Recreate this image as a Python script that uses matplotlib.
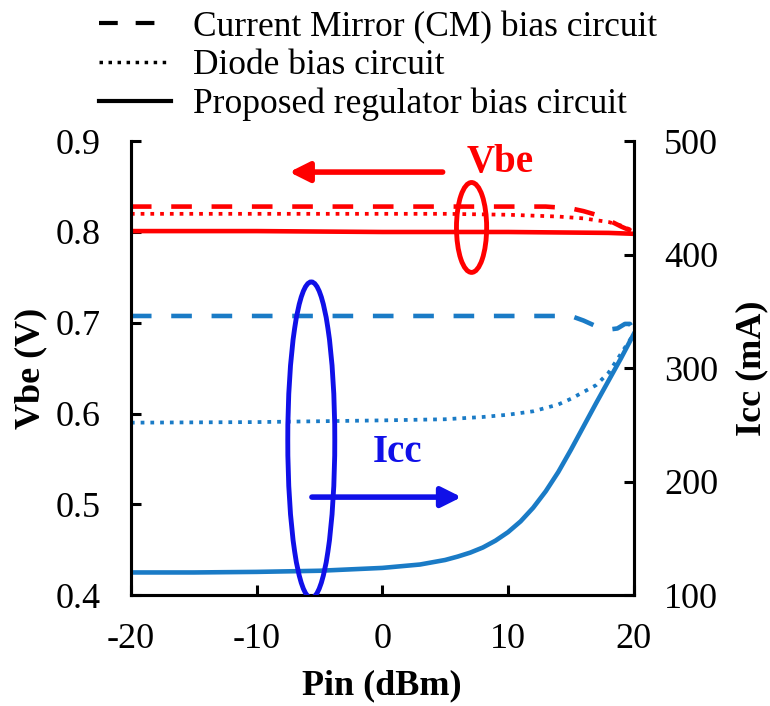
import numpy as np
import matplotlib
matplotlib.use("Agg")
import matplotlib.pyplot as plt
from matplotlib.lines import Line2D
from matplotlib.patches import Ellipse

plt.rcParams["font.family"] = ["Liberation Serif", "DejaVu Serif"]
plt.rcParams["axes.unicode_minus"] = False

# Vbe (left axis) vs Pin
pin_vbe_cm = [-20, -10, 0, 10, 13, 15, 16, 17, 18, 19, 20]
vbe_cm = [0.828, 0.828, 0.828, 0.828, 0.828, 0.826, 0.823, 0.819, 0.813, 0.806, 0.800]
pin_vbe_diode = [-20, -10, 0, 5, 10, 14, 16, 18, 19, 20]
vbe_diode = [0.820, 0.820, 0.820, 0.820, 0.819, 0.817, 0.815, 0.811, 0.807, 0.801]
pin_vbe_prop = [-20, -10, 0, 10, 18, 20]
vbe_prop = [0.801, 0.801, 0.800, 0.800, 0.799, 0.798]

# Icc (right axis) vs Pin
pin_icc_cm = [-20, -10, 0, 10, 15, 16, 17, 18, 18.7, 19.3, 19.7, 20]
icc_cm = [346, 346, 346, 346, 346, 342, 337, 334, 335, 339, 339, 333]
pin_icc_diode = [-20, -10, 0, 5, 8, 10, 12, 14, 15, 16, 17, 18, 19, 20]
icc_diode = [252, 252.5, 254, 255, 257, 259, 262, 268, 273, 279, 285, 296, 313, 330]
pin_icc_prop = [-20, -15, -10, -5, 0, 3, 5, 6, 7, 8, 9, 10, 11, 12, 13, 14, 15, 16, 17, 18, 19, 20]
icc_prop = [120, 120, 120.5, 121.5, 124, 127, 131, 134, 137.5, 142, 148, 155.5, 165, 177,
            191.5, 208.5, 228, 248.5, 269, 289, 309, 330]

legend_labels = ["Current Mirror (CM) bias circuit", "Diode bias circuit",
                 "Proposed regulator bias circuit"]

RED = "#FF0000"
BLUE_LINE = "#1A7BC6"
BLUE_MARK = "#1010E8"
dash = (0, (4.5, 4.3))
dot = (0, (1, 1.6))

fig = plt.figure(figsize=(7.7, 7.06), dpi=100)
ax = fig.add_axes([0.170, 0.157, 0.653, 0.643])
ax2 = ax.twinx()

ax.plot(pin_vbe_cm, vbe_cm, color=RED, lw=3.3, linestyle=dash)
ax.plot(pin_vbe_diode, vbe_diode, color=RED, lw=2.7, linestyle=dot)
ax.plot(pin_vbe_prop, vbe_prop, color=RED, lw=3.3)

ax2.plot(pin_icc_cm, icc_cm, color=BLUE_LINE, lw=3.3, linestyle=dash)
ax2.plot(pin_icc_diode, icc_diode, color=BLUE_LINE, lw=2.7, linestyle=dot)
ax2.plot(pin_icc_prop, icc_prop, color=BLUE_LINE, lw=3.3)

# annotations (in Vbe coordinates, drawn on top)
ax2.add_patch(Ellipse((7.1, 0.805), 2.4, 0.099, transform=ax.transData,
                      fill=False, edgecolor=RED, lw=3.5, zorder=5))
ax2.add_patch(Ellipse((-5.65, 0.571), 3.74, 0.348, transform=ax.transData,
                      fill=False, edgecolor=BLUE_MARK, lw=3.5, zorder=5))
ax2.annotate("", xy=(-7.4, 0.866), xytext=(4.8, 0.866), xycoords=ax.transData,
             textcoords=ax.transData,
             arrowprops=dict(arrowstyle="-|>", lw=4, color=RED, mutation_scale=30,
                             shrinkA=0, shrinkB=0))
ax2.annotate("", xy=(6.3, 0.508), xytext=(-5.6, 0.508), xycoords=ax.transData,
             textcoords=ax.transData,
             arrowprops=dict(arrowstyle="-|>", lw=4, color=BLUE_MARK, mutation_scale=30,
                             shrinkA=0, shrinkB=0))
ax2.text(9.4, 0.877, "Vbe", transform=ax.transData, color=RED, fontsize=28,
         fontweight="bold", ha="center", va="center")
ax2.text(1.2, 0.557, "Icc", transform=ax.transData, color=BLUE_MARK, fontsize=28,
         fontweight="bold", ha="center", va="center")

ax.set_xlim(-20, 20)
ax.set_ylim(0.4, 0.9)
ax2.set_ylim(100, 500)
ax.set_xticks([-20, -10, 0, 10, 20])
ax.set_yticks([0.4, 0.5, 0.6, 0.7, 0.8, 0.9])
ax2.set_yticks([100, 200, 300, 400, 500])
ax.set_yticklabels(["0.4", "0.5", "0.6", "0.7", "0.8", "0.9"])

for a in (ax, ax2):
    a.spines["top"].set_visible(False)
    for s in ("left", "right", "bottom"):
        a.spines[s].set_linewidth(2.2)
    a.tick_params(direction="in", length=7, width=2.2, labelsize=26, pad=22)
ax.tick_params(axis="x", pad=20)

ax.set_xlabel("Pin (dBm)", fontsize=26, fontweight="bold", labelpad=10)
ax.set_ylabel("Vbe (V)", fontsize=26, fontweight="bold", labelpad=6)
ax2.set_ylabel("Icc (mA)", fontsize=26, fontweight="bold", labelpad=12)

handles = [Line2D([], [], color="black", lw=3, linestyle=dash),
           Line2D([], [], color="black", lw=2.5, linestyle=dot),
           Line2D([], [], color="black", lw=3)]
fig.legend(handles, legend_labels, loc="upper left", bbox_to_anchor=(0.11, 1.005),
           frameon=False, fontsize=25.5, handlelength=2.05, handletextpad=0.6,
           labelspacing=0.15, borderaxespad=0)

fig.savefig("out.png", dpi=100)
